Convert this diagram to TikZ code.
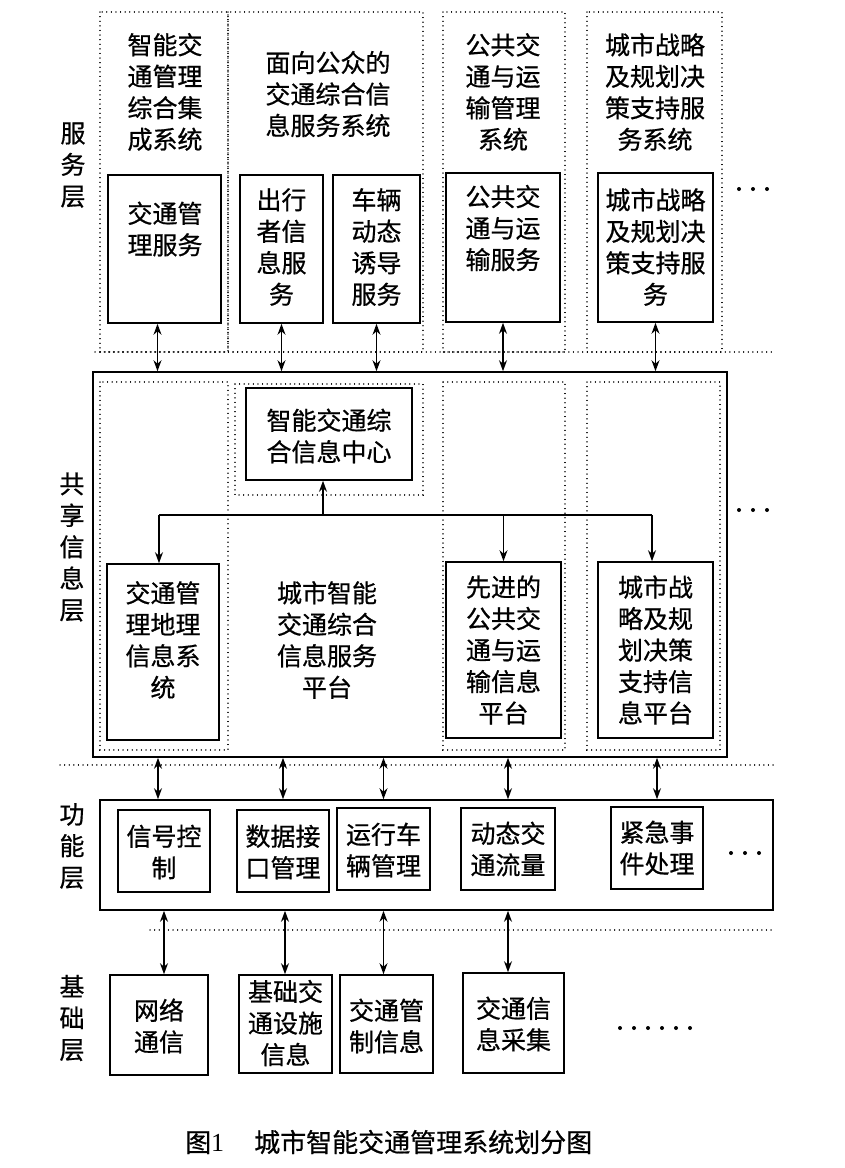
\documentclass[tikz,border=0pt]{standalone}
\usepackage{fontspec}
\setmainfont{Liberation Serif}
\newfontfamily\cjk[FakeBold=0.7]{Noto Sans CJK SC}
\usetikzlibrary{arrows.meta,fit}
\begin{document}
\begin{tikzpicture}[x=1pt,y=-1pt,
  box/.style={draw, line width=1.6pt, inner sep=0pt},
  lbl/.style={font=\cjk\fontsize{25}{31.5}\selectfont, align=center, inner sep=0pt},
  dotline/.style={line width=1.2pt, line cap=round, dash pattern=on 0.1pt off 4.5pt},
  link/.style={line width=1.4pt},
  dbl/.style={line width=1.4pt, {Stealth[length=11pt,width=8pt]}-{Stealth[length=11pt,width=8pt]}},
  arr/.style={line width=1.4pt, -{Stealth[length=11pt,width=8pt]}}
]
\fill[white] (0,0) rectangle (844,1168);
\useasboundingbox (0,0) rectangle (844,1168);

% ---------- dotted column outlines ----------
\draw[dotline] (100,12) rectangle (228,352);
\draw[dotline] (228,12) rectangle (423,352);
\draw[dotline] (443,12) rectangle (565,352);
\draw[dotline] (587,12) rectangle (722,352);
\draw[dotline] (95,352) -- (775,352);
\draw[dotline] (100,382) rectangle (228,750);
\draw[dotline] (235,384) rectangle (423,495);
\draw[dotline] (443,382) rectangle (565,750);
\draw[dotline] (587,382) rectangle (720,750);
\draw[dotline] (60,765) -- (775,765);
\draw[dotline] (150,930) -- (775,930);

% ---------- layer labels ----------
\node[lbl] (L1) at (73,165) {服\\务\\层};
\node[lbl] (L2) at (72,547) {共\\享\\信\\息\\层};
\node[lbl] (L3) at (72,846) {功\\能\\层};
\node[lbl] (L4) at (72,1018) {基\\础\\层};

% ---------- service layer ----------
\node[lbl] (c1) at (165,92) {智能交\\通管理\\综合集\\成系统};
\node[lbl] (c2) at (328,94) {面向公众的\\交通综合信\\息服务系统};
\node[lbl] (c3) at (503,92) {公共交\\通与运\\输管理\\系统};
\node[lbl] (c4) at (655,92) {城市战略\\及规划决\\策支持服\\务系统};

\node[box, fit={(108,175) (221,323)}] (s1) {};
\node[box, fit={(240,175) (323,323)}] (s2) {};
\node[box, fit={(333,175) (420,323)}] (s3) {};
\node[box, fit={(446,173) (560,322)}] (s4) {};
\node[box, fit={(598,173) (713,322)}] (s5) {};
\node[lbl] (s1t) at (165,229) {交通管\\理服务};
\node[lbl] (s2t) at (281.5,247) {出行\\者信\\息服\\务};
\node[lbl] (s3t) at (376.5,247) {车辆\\动态\\诱导\\服务};
\node[lbl] (s4t) at (503,228) {公共交\\通与运\\输服务};
\node[lbl] (s5t) at (655.5,247) {城市战略\\及规划决\\策支持服\\务};

% ---------- shared layer ----------
\node[box, fit={(93,372) (727,757)}] (sh) {};
\node[box, fit={(246,388) (412,480)}] (cb) {};
\node[lbl] (cbt) at (329,436) {智能交通综\\合信息中心};
\node[box, fit={(107,564) (219,740)}] (g1) {};
\node[box, fit={(446,562) (561,738)}] (g3) {};
\node[box, fit={(598,562) (713,738)}] (g4) {};
\node[lbl] (g1t) at (163,640) {交通管\\理地理\\信息系\\统};
\node[lbl] (g2t) at (327,640) {城市智能\\交通综合\\信息服务\\平台};
\node[lbl] (g3t) at (503.5,650) {先进的\\公共交\\通与运\\输信息\\平台};
\node[lbl] (g4t) at (655.5,650) {城市战\\略及规\\划决策\\支持信\\息平台};

\coordinate (hub) at (323,515);
\coordinate (hl) at (159,515);
\coordinate (hr) at (652,515);
\draw[link] (hl) -- (hr);
\draw[arr] (hub) -- (hub |- cb.south);
\draw[arr] (hl) -- (hl |- g1.north);
\draw[arr] (g3.north |- hub) -- (g3.north);
\draw[arr] (hr) -- (hr |- g4.north);

% service <-> shared
\draw[dbl] ([xshift=-7pt]s1.south) -- ([xshift=-7pt]s1.south |- sh.north);
\draw[dbl] (s2.south) -- (s2.south |- sh.north);
\draw[dbl] (s3.south) -- (s3.south |- sh.north);
\draw[dbl] (s4.south) -- (s4.south |- sh.north);
\draw[dbl] (s5.south) -- (s5.south |- sh.north);

% ---------- function layer ----------
\node[box, fit={(100,800) (773,910)}] (fn) {};
\node[box, fit={(118,810) (210,892)}] (f1) {};
\node[box, fit={(237,810) (329,892)}] (f2) {};
\node[box, fit={(337,808) (430,890)}] (f3) {};
\node[box, fit={(461,808) (555,890)}] (f4) {};
\node[box, fit={(611,807) (703,889)}] (f5) {};
\node[lbl] (f1t) at (164,852) {信号控\\制};
\node[lbl] (f2t) at (283,852) {数据接\\口管理};
\node[lbl] (f3t) at (383.5,850) {运行车\\辆管理};
\node[lbl] (f4t) at (508,849) {动态交\\通流量};
\node[lbl] (f5t) at (657,848) {紧急事\\件处理};

% shared <-> function
\draw[dbl] ([xshift=-6pt]f1.north |- sh.south) -- ([xshift=-6pt]f1.north |- fn.north);
\draw[dbl] (f2.north |- sh.south) -- (f2.north |- fn.north);
\draw[dbl] (f3.north |- sh.south) -- (f3.north |- fn.north);
\draw[dbl] (f4.north |- sh.south) -- (f4.north |- fn.north);
\draw[dbl] (f5.north |- sh.south) -- (f5.north |- fn.north);

% ---------- base layer ----------
\node[box, fit={(110,975) (208,1075)}] (b1) {};
\node[box, fit={(239,975) (332,1073)}] (b2) {};
\node[box, fit={(340,975) (433,1073)}] (b3) {};
\node[box, fit={(463,973) (564,1073)}] (b4) {};
\node[lbl] (b1t) at (159,1026) {网络\\通信};
\node[lbl] (b2t) at (285.5,1023) {基础交\\通设施\\信息};
\node[lbl] (b3t) at (386.5,1026) {交通管\\制信息};
\node[lbl] (b4t) at (513.5,1024) {交通信\\息采集};

% function <-> base
\draw[dbl] (f1.south |- fn.south) -- (f1.south |- b1.north);
\draw[dbl] ([xshift=2pt]f2.south |- fn.south) -- ([xshift=2pt]f2.south |- b2.north);
\draw[dbl] (f3.south |- fn.south) -- (f3.south |- b3.north);
\draw[dbl] (f4.south |- fn.south) -- (f4.south |- b4.north);

% ---------- ellipses ----------
\foreach \x in {739,753,767} \fill (\x,189) circle[radius=2pt];
\foreach \x in {739,753,767} \fill (\x,510) circle[radius=2pt];
\foreach \x in {731,745,759} \fill (\x,853) circle[radius=2pt];
\foreach \x in {620,634,648,662,676,690} \fill (\x,1028) circle[radius=2pt];

% ---------- caption ----------
\node[font=\fontsize{26}{30}\selectfont, anchor=west, inner sep=0pt] (cap) at (185,1142) {{\cjk 图}1\hspace{30pt}{\cjk 城市智能交通管理系统划分图}};
\end{tikzpicture}
\end{document}
